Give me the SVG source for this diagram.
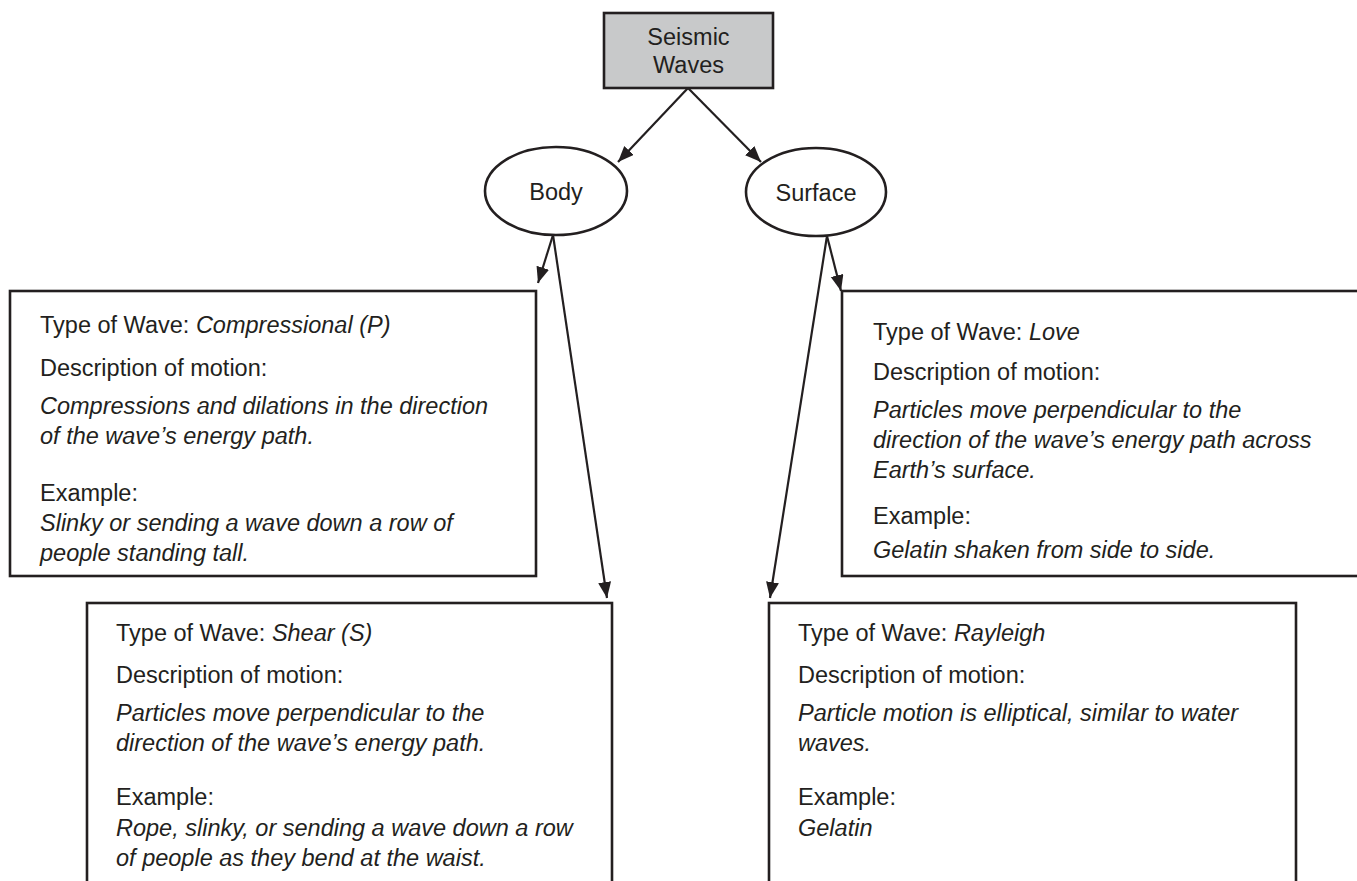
<svg xmlns="http://www.w3.org/2000/svg" width="1357" height="881" viewBox="0 0 1357 881">
<style>
.t{font-family:"Liberation Sans",Arial,sans-serif;font-size:23.5px;fill:#231f20}
.i{font-style:italic}
.box{fill:#fff;stroke:#231f20;stroke-width:2.6}
.c{stroke:#231f20;stroke-width:2.2;fill:none}
</style>
<defs>
<marker id="ah" markerUnits="userSpaceOnUse" markerWidth="18" markerHeight="14" refX="16" refY="6.5" orient="auto">
<path d="M0,0 L16,6.5 L0,13 z" fill="#231f20"/>
</marker>
</defs>
<rect width="1357" height="881" fill="#fff"/>
<g id="connectors">
<line class="c" x1="688" y1="88" x2="618" y2="162" marker-end="url(#ah)"/>
<line class="c" x1="688" y1="88" x2="761" y2="162" marker-end="url(#ah)"/>
<line class="c" x1="553" y1="235" x2="538" y2="283" marker-end="url(#ah)"/>
<line class="c" x1="553" y1="235" x2="607" y2="598" marker-end="url(#ah)"/>
<line class="c" x1="827" y1="236" x2="841" y2="291" marker-end="url(#ah)"/>
<line class="c" x1="827" y1="236" x2="770" y2="598" marker-end="url(#ah)"/>
</g>
<g id="seismic">
<rect x="604" y="13" width="169" height="75" fill="#c8c9ca" stroke="#231f20" stroke-width="2.6"/>
<text class="t" x="688.5" y="45" text-anchor="middle" font-size="24">Seismic</text>
<text class="t" x="688.5" y="73" text-anchor="middle" font-size="24">Waves</text>
</g>
<g id="body">
<ellipse cx="556" cy="191" rx="71" ry="44" fill="#fff" stroke="#231f20" stroke-width="2.6"/>
<text class="t" x="556" y="200" text-anchor="middle" font-size="24">Body</text>
</g>
<g id="surface">
<ellipse cx="816" cy="192" rx="70" ry="44" fill="#fff" stroke="#231f20" stroke-width="2.6"/>
<text class="t" x="816" y="201" text-anchor="middle" font-size="24">Surface</text>
</g>
<g id="compressional">
<rect class="box" x="10" y="291" width="526" height="285"/>
<text class="t" x="40" y="333">Type of Wave: <tspan class="i">Compressional (P)</tspan></text>
<text class="t" x="40" y="376">Description of motion:</text>
<text class="t i" x="40" y="414">Compressions and dilations in the direction</text>
<text class="t i" x="40" y="444">of the wave’s energy path.</text>
<text class="t" x="40" y="501">Example:</text>
<text class="t i" x="40" y="531">Slinky or sending a wave down a row of</text>
<text class="t i" x="40" y="561">people standing tall.</text>
</g>
<g id="love">
<rect class="box" x="842" y="291" width="530" height="285"/>
<text class="t" x="873" y="340">Type of Wave: <tspan class="i">Love</tspan></text>
<text class="t" x="873" y="380">Description of motion:</text>
<text class="t i" x="873" y="418">Particles move perpendicular to the</text>
<text class="t i" x="873" y="448">direction of the wave’s energy path across</text>
<text class="t i" x="873" y="478">Earth’s surface.</text>
<text class="t" x="873" y="524">Example:</text>
<text class="t i" x="873" y="558">Gelatin shaken from side to side.</text>
</g>
<g id="shear">
<rect class="box" x="87" y="603" width="525" height="290"/>
<text class="t" x="116" y="641">Type of Wave: <tspan class="i">Shear (S)</tspan></text>
<text class="t" x="116" y="683">Description of motion:</text>
<text class="t i" x="116" y="721">Particles move perpendicular to the</text>
<text class="t i" x="116" y="751">direction of the wave’s energy path.</text>
<text class="t" x="116" y="805">Example:</text>
<text class="t i" x="116" y="836">Rope, slinky, or sending a wave down a row</text>
<text class="t i" x="116" y="866">of people as they bend at the waist.</text>
</g>
<g id="rayleigh">
<rect class="box" x="769" y="603" width="527" height="290"/>
<text class="t" x="798" y="641">Type of Wave: <tspan class="i">Rayleigh</tspan></text>
<text class="t" x="798" y="683">Description of motion:</text>
<text class="t i" x="798" y="721">Particle motion is elliptical, similar to water</text>
<text class="t i" x="798" y="751">waves.</text>
<text class="t" x="798" y="805">Example:</text>
<text class="t i" x="798" y="836">Gelatin</text>
</g>
</svg>
